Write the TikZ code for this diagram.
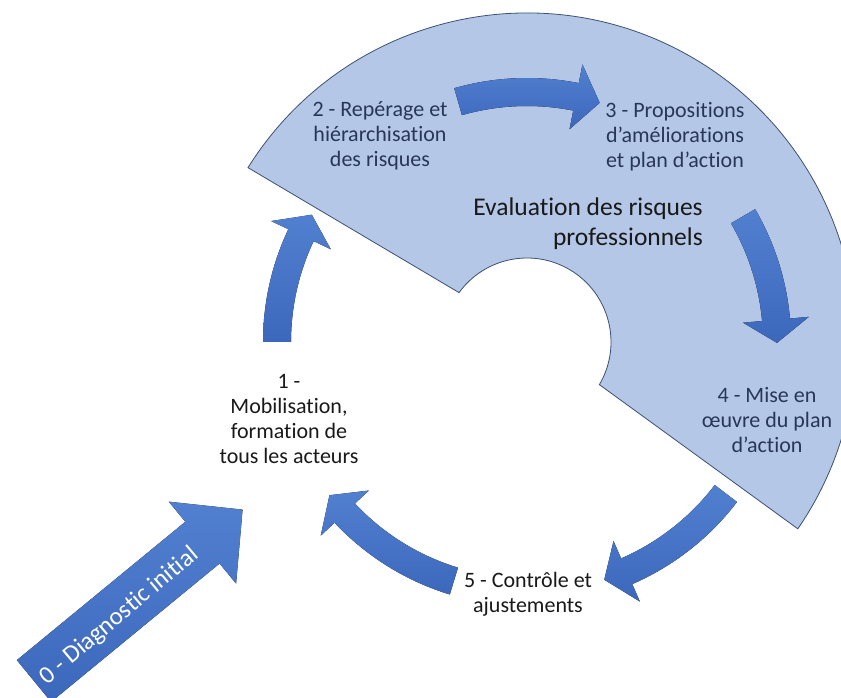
\documentclass[tikz,border=0pt]{standalone}
\usepackage{fontspec}
\setmainfont[Ligatures=NoCommon]{Carlito}
\usepackage{tikz}
\definecolor{zonefill}{RGB}{180,199,231}
\definecolor{zoneline}{RGB}{60,80,115}
\definecolor{arrowlight}{RGB}{82,128,208}
\definecolor{arrowdark}{RGB}{60,104,188}
\definecolor{zonetext}{RGB}{40,55,85}
\definecolor{steptext}{RGB}{25,25,25}

\begin{document}
\begin{tikzpicture}[x=1pt, y=1pt,
    zone/.style={fill=zonefill, draw=zoneline, line width=0.8pt},
    bluearrow/.style={top color=arrowlight, bottom color=arrowdark, draw=none},
    steplabel/.style={align=center, inner sep=0pt, font=\fontsize{22}{25}\selectfont}]
\useasboundingbox (0,0) rectangle (841,697);
\clip (0,0) rectangle (841,697);
\begin{scope}[shift={(527,355)}]
    \filldraw[zone] (148:329) arc[start angle=148, end angle=-34.6, radius=329]
        -- (-30.5:84) arc[start angle=-30.5, end angle=144, radius=84] -- cycle;
    \foreach \t/\b/\p in {180/154.7/149.4, 106/78.7/73.1, 30.2/5.1/-0.2, -37.3/-66.5/-72, -107/-136.8/-142.2}
        \fill[bluearrow] (\t:264) arc[start angle=\t, end angle=\b, radius=264] -- (\b:283) -- (\p:250)
            -- (\b:217) -- (\b:236) arc[start angle=\b, end angle=\t, radius=236] -- cycle;
\end{scope}
\begin{scope}[shift={(34,16)}, rotate=39.4]
    \fill[bluearrow] (0,-27) -- (218,-27) -- (218,-53) -- (270,0) -- (218,53) -- (218,27) -- (0,27) -- cycle;
    \node[rotate=40, text=white, inner sep=0pt, font=\fontsize{25}{30}\selectfont] (n0) at (107,-4) {0 - Diagnostic initial};
\end{scope}
\node[steplabel, text=steptext] (n1) at (289,278) {1 -\\Mobilisation,\\formation de\\tous les acteurs};
\node[steplabel, text=zonetext] (n2) at (380,561) {2 - Repérage et\\hiérarchisation\\des risques};
\node[steplabel, text=zonetext] (n3) at (675,560) {3 - Propositions\\d’améliorations\\et plan d’action};
\node[steplabel, text=zonetext] (n4) at (767,277) {4 - Mise en\\œuvre du plan\\d’action};
\node[steplabel, text=steptext] (n5) at (528,103) {5 - Contrôle et\\ajustements};
\node[align=right, anchor=east, inner sep=0pt, font=\fontsize{25.5}{30}\selectfont, text=steptext] (eval) at (703,473) {Evaluation des risques\\professionnels};
\end{tikzpicture}
\end{document}
